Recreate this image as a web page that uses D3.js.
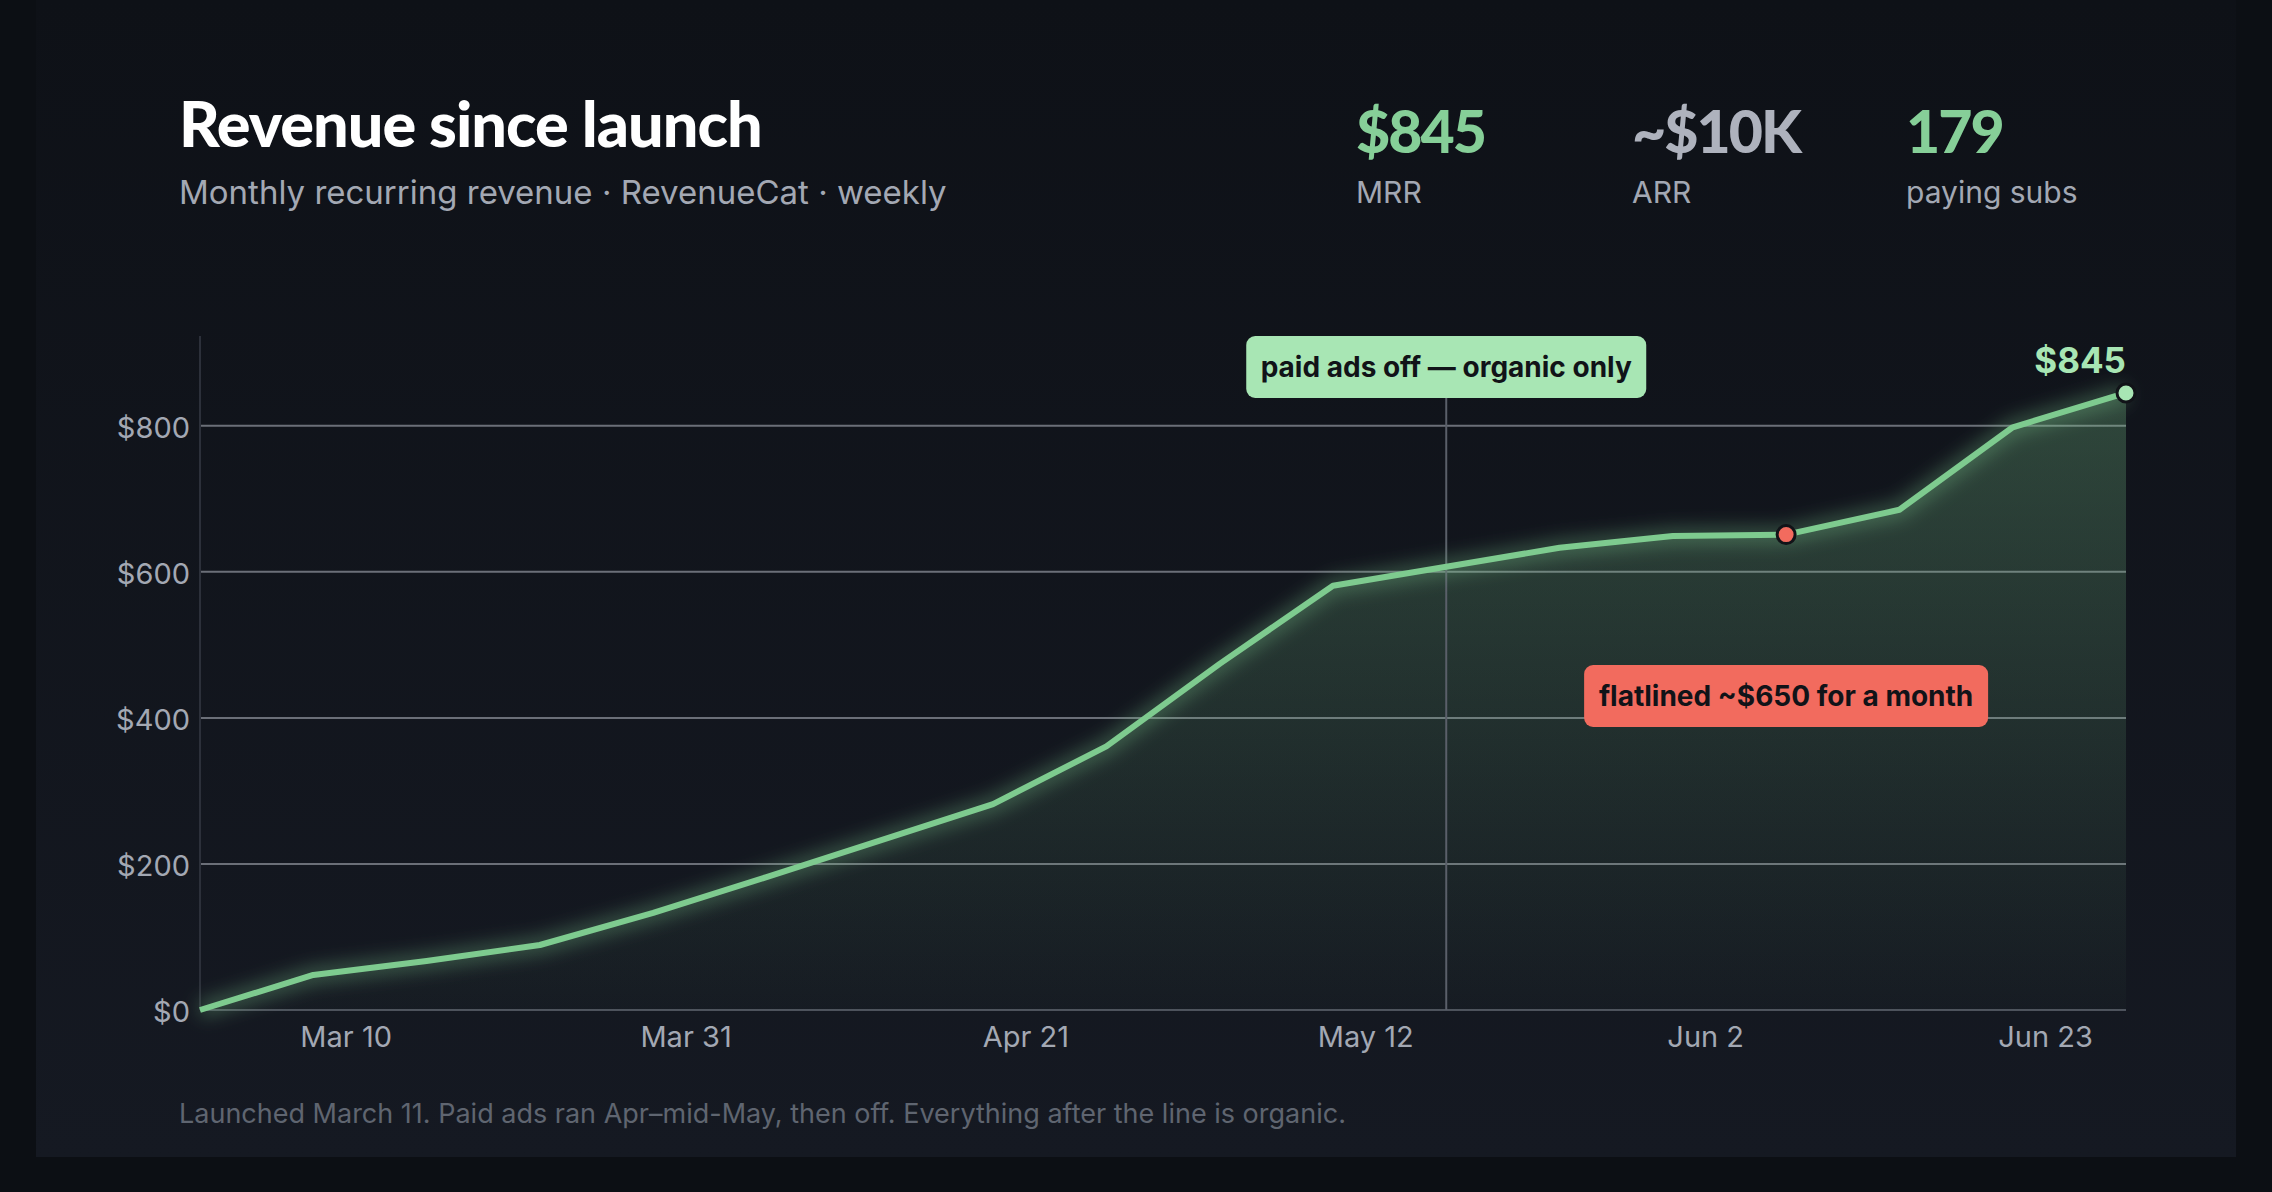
<!DOCTYPE html>
<html>
<head>
<meta charset="utf-8">
<script src="https://cdn.jsdelivr.net/npm/d3@7"></script>
<style>
  body { margin: 0; background: #0c0f14; }
  svg { display: block; }
</style>
</head>
<body>
<svg id="chart" width="2272" height="1192"></svg>
<script>
// weekly MRR readings off the RevenueCat dashboard
var weeks = ["2024-03-01","2024-03-08","2024-03-15","2024-03-22","2024-03-29","2024-04-05",
             "2024-04-12","2024-04-19","2024-04-26","2024-05-03","2024-05-10","2024-05-17",
             "2024-05-24","2024-05-31","2024-06-07","2024-06-14","2024-06-21","2024-06-28"]
var mrr = [0, 48, 67, 89, 133, 182, 232, 282, 361, 474, 581, 607, 633, 649, 651, 685, 798, 845]
var yTicks = [0, 200, 400, 600, 800]
var xTicks = ["2024-03-10","2024-03-31","2024-04-21","2024-05-12","2024-06-02","2024-06-23"]
var kpiValues = ["$845", "~$10K", "179"]
var kpiLabels = ["MRR", "ARR", "paying subs"]
var adsOffDate = "2024-05-17"
var flatDate = "2024-06-07"

var parse = d3.timeParse("%Y-%m-%d")
var data = weeks.map(function(w, i) { return { date: parse(w), value: mrr[i] } })

var svg = d3.select("#chart")
var defs = svg.append("defs")

var cardGrad = defs.append("linearGradient").attr("id", "card").attr("x1", 0).attr("y1", 0).attr("x2", 0).attr("y2", 1)
cardGrad.append("stop").attr("offset", 0).attr("stop-color", "#0e1117")
cardGrad.append("stop").attr("offset", 1).attr("stop-color", "#151922")

var areaGrad = defs.append("linearGradient").attr("id", "area").attr("x1", 0).attr("y1", 0).attr("x2", 0).attr("y2", 1)
areaGrad.append("stop").attr("offset", 0).attr("stop-color", "#7ecb8f").attr("stop-opacity", 0.28)
areaGrad.append("stop").attr("offset", 1).attr("stop-color", "#7ecb8f").attr("stop-opacity", 0.02)

defs.append("filter").attr("id", "glow").attr("x", "-10%").attr("y", "-20%").attr("width", "120%").attr("height", "140%")
  .append("feGaussianBlur").attr("stdDeviation", 9)

svg.append("rect").attr("x", 36).attr("y", 0).attr("width", 2200).attr("height", 1157).attr("fill", "url(#card)")

// header
svg.append("text").attr("x", 179).attr("y", 147)
  .attr("font-family", "Lato").attr("font-weight", 900).attr("font-size", 63).attr("fill", "#ffffff")
  .attr("letter-spacing", -1).text("Revenue since launch")
svg.append("text").attr("x", 179).attr("y", 204)
  .attr("font-family", "Inter").attr("font-size", 33).attr("fill", "#a3a8b3")
  .text("Monthly recurring revenue · RevenueCat · weekly")

var kpiX = [1356, 1632, 1906]
var kpiColor = ["#86cf98", "#aeb2bd", "#86cf98"]
kpiValues.forEach(function(v, i) {
  svg.append("text").attr("x", kpiX[i]).attr("y", 153)
    .attr("font-family", "Lato").attr("font-weight", 900).attr("font-size", 59).attr("fill", kpiColor[i])
    .attr("letter-spacing", -2).text(v)
  svg.append("text").attr("x", kpiX[i]).attr("y", 203)
    .attr("font-family", "Inter").attr("font-size", 30).attr("fill", "#a3a8b3").text(kpiLabels[i])
})

// chart
var left = 200, right = 2126, plotTop = 336, bottom = 1010
var x = d3.scaleTime().domain(d3.extent(data, function(d) { return d.date })).range([left, right])
var y = d3.scaleLinear().domain([0, 923]).range([bottom, plotTop])

svg.append("g").selectAll("line").data(yTicks.slice(1)).enter().append("line")
  .attr("x1", left).attr("x2", right).attr("y1", y).attr("y2", y)
  .attr("stroke", "#6b6f78").attr("stroke-width", 2)

svg.append("line").attr("x1", left).attr("x2", left).attr("y1", plotTop).attr("y2", bottom)
  .attr("stroke", "#2c303a").attr("stroke-width", 2)
svg.append("line").attr("x1", left).attr("x2", right).attr("y1", bottom).attr("y2", bottom)
  .attr("stroke", "#4d525c").attr("stroke-width", 2)

var yAxis = svg.append("g").attr("transform", "translate(" + left + ",0)")
  .call(d3.axisLeft(y).tickValues(yTicks).tickSize(0).tickPadding(10).tickFormat(function(d) { return "$" + d }))
yAxis.select(".domain").remove()
yAxis.selectAll("text").attr("font-family", "Inter").attr("font-size", 29).attr("fill", "#a3a8b3").attr("dy", "0.4em")

var xAxis = svg.append("g").attr("transform", "translate(0," + bottom + ")")
  .call(d3.axisBottom(x).tickValues(xTicks.map(parse)).tickSize(0).tickPadding(16).tickFormat(d3.timeFormat("%b %-d")))
xAxis.select(".domain").remove()
xAxis.selectAll("text").attr("font-family", "Inter").attr("font-size", 29).attr("fill", "#a3a8b3")

var area = d3.area().x(function(d) { return x(d.date) }).y0(bottom).y1(function(d) { return y(d.value) })
var line = d3.line().x(function(d) { return x(d.date) }).y(function(d) { return y(d.value) })

svg.append("path").datum(data).attr("d", area).attr("fill", "url(#area)")

var adsX = x(parse(adsOffDate))
svg.append("line").attr("x1", adsX).attr("x2", adsX).attr("y1", 390).attr("y2", bottom)
  .attr("stroke", "#5a5f69").attr("stroke-width", 2)

svg.append("path").datum(data).attr("d", line).attr("fill", "none")
  .attr("stroke", "#7ecb8f").attr("stroke-width", 16).attr("stroke-opacity", 0.35).attr("filter", "url(#glow)")
svg.append("path").datum(data).attr("d", line).attr("fill", "none")
  .attr("stroke", "#7ecb8f").attr("stroke-width", 6).attr("stroke-linejoin", "round")

// annotations
function tag(cx, cy, w, txt, bg) {
  svg.append("rect").attr("x", cx - w / 2).attr("y", cy - 31).attr("width", w).attr("height", 62)
    .attr("rx", 9).attr("fill", bg)
  svg.append("text").attr("x", cx).attr("y", cy + 10).attr("text-anchor", "middle")
    .attr("font-family", "Inter").attr("font-weight", 700).attr("font-size", 28).attr("fill", "#111318").text(txt)
}
tag(adsX, 367, 400, "paid ads off — organic only", "#a8e6b4")

var flat = data[weeks.indexOf(flatDate)]
tag(x(flat.date), 696, 404, "flatlined ~$650 for a month", "#f26b5e")
svg.append("circle").attr("cx", x(flat.date)).attr("cy", y(flat.value)).attr("r", 9)
  .attr("fill", "#f26b5e").attr("stroke", "#111318").attr("stroke-width", 3)

var last = data[data.length - 1]
svg.append("circle").attr("cx", x(last.date)).attr("cy", y(last.value)).attr("r", 9)
  .attr("fill", "#a8e6b4").attr("stroke", "#111318").attr("stroke-width", 3)
svg.append("text").attr("x", x(last.date)).attr("y", y(last.value) - 20).attr("text-anchor", "end")
  .attr("font-family", "Inter").attr("font-weight", 700).attr("font-size", 35).attr("fill", "#a8e6b4")
  .text("$" + last.value)

svg.append("text").attr("x", 179).attr("y", 1123)
  .attr("font-family", "Inter").attr("font-size", 27).attr("fill", "#5f6570")
  .text("Launched March 11. Paid ads ran Apr–mid-May, then off. Everything after the line is organic.")
</script>
</body>
</html>
